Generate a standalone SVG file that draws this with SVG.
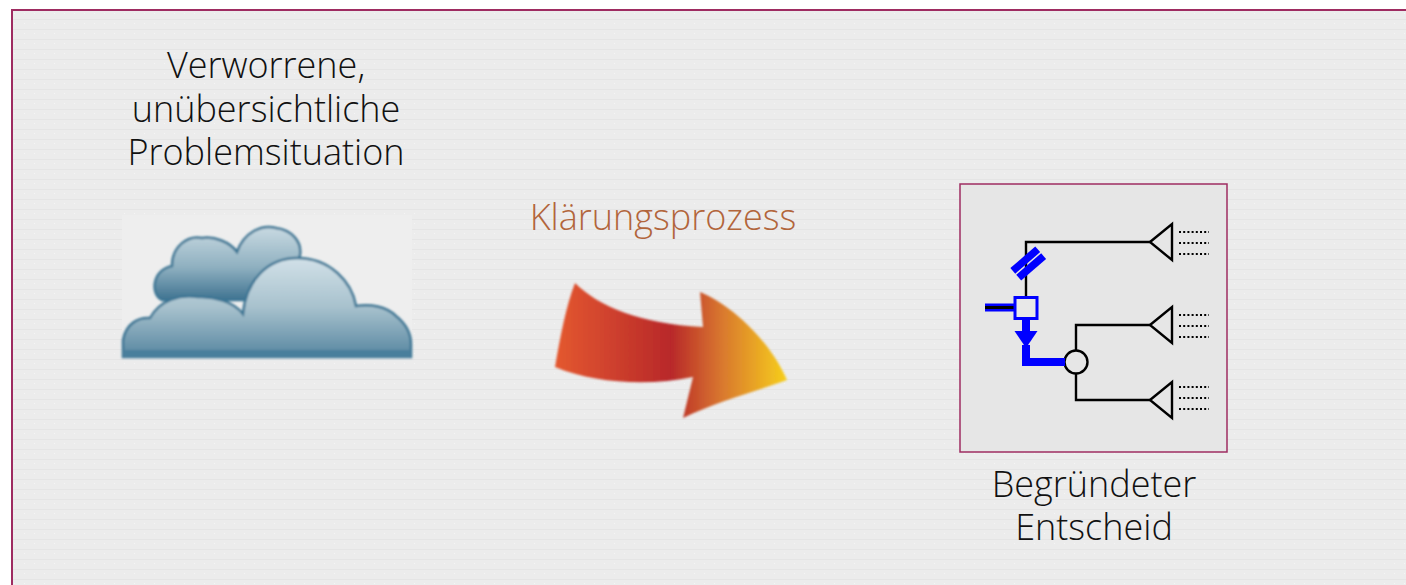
<svg xmlns="http://www.w3.org/2000/svg" width="1406" height="585" viewBox="0 0 1406 585">
  <defs>
    <pattern id="grid" width="10" height="10" patternUnits="userSpaceOnUse">
      <rect width="10" height="10" fill="#ececec"/>
      <rect y="9" width="10" height="1" fill="#e5e5e5"/>
      <rect x="4" y="3" width="1" height="1" fill="#f6f6f6"/>
    </pattern>
    <linearGradient id="cloudBack" x1="0" y1="0" x2="0" y2="1">
      <stop offset="0" stop-color="#c9dae2"/>
      <stop offset="0.55" stop-color="#8fb0c0"/>
      <stop offset="1" stop-color="#3f7391"/>
    </linearGradient>
    <linearGradient id="cloudFront" x1="0" y1="0" x2="0" y2="1">
      <stop offset="0" stop-color="#d2e1e8"/>
      <stop offset="0.5" stop-color="#a7c1cd"/>
      <stop offset="1" stop-color="#5786a0"/>
    </linearGradient>
    <linearGradient id="arrowFill" x1="555" y1="0" x2="787" y2="0" gradientUnits="userSpaceOnUse">
      <stop offset="0" stop-color="#e4582f"/>
      <stop offset="0.5" stop-color="#b8282b"/>
      <stop offset="0.72" stop-color="#d9782e"/>
      <stop offset="1" stop-color="#f7cf1c"/>
    </linearGradient>
    <filter id="soft" x="-5%" y="-5%" width="110%" height="110%">
      <feGaussianBlur stdDeviation="0.8"/>
    </filter>
  </defs>
  <style>
    .label { font-family: "Open Sans", "Liberation Sans", sans-serif; font-size: 36px; fill: #111; text-anchor: middle; font-weight: 300; }
    .process { fill: #b2653b; }
    .wire { fill: none; stroke: #000; stroke-width: 2.4; }
    .blue { fill: #0000ff; }
    .dots { fill: none; stroke: #000; stroke-width: 2; stroke-dasharray: 2 2.2; }
  </style>

  <!-- page background with frame on left and top -->
  <rect width="1406" height="585" fill="#ffffff"/>
  <rect x="11" y="9" width="1395" height="576" fill="url(#grid)"/>
  <path d="M12 585 V10 H1406" fill="none" stroke="#9e2c61" stroke-width="2"/>

  <!-- problem situation -->
  <g id="node-problem">
    <text class="label" x="266" y="78">Verworrene,</text>
    <text class="label" x="266" y="122">unübersichtliche</text>
    <text class="label" x="266" y="165">Problemsituation</text>
    <rect x="122" y="215" width="290" height="143" fill="#eeeeee"/>
    <g filter="url(#soft)">
      <path d="M162 300 C150 294 152 270 172 266 C172 246 188 235 202 238 C214 236 230 242 237 252 C244 232 262 224 276 228 C292 230 302 242 300 255 L290 300 Z"
            fill="url(#cloudBack)" stroke="#3c7694" stroke-width="2.5"/>
      <path d="M123 357 L123 340 C126 324 138 317 150 318 C160 300 180 294 198 297 C214 296 234 302 243 314 C246 280 268 258 297 258 C330 258 352 282 356 306 C370 304 386 306 396 316 C406 324 411 334 411 344 L411 357 Z"
            fill="url(#cloudFront)" stroke="#3c7694" stroke-width="2.5"/>
      <rect x="123" y="350" width="288" height="8" fill="#4a7f9c"/>
    </g>
  </g>

  <!-- clarification process -->
  <g id="node-process">
    <text class="label process" x="663" y="230">Klärungsprozess</text>
    <path filter="url(#soft)" fill="url(#arrowFill)"
          d="M575 283 C598 306 640 324 703 327 L700 292 C730 304 770 340 787 380 C760 390 715 402 683 418 L693 377 C650 386 596 384 555 367 C560 338 566 306 575 283 Z"/>
  </g>

  <!-- justified decision -->
  <g id="node-decision">
    <rect x="960" y="184" width="267" height="268" fill="#e6e6e6" stroke="#9e2c61" stroke-width="1.5"/>
    <g id="decision-tree">
      <!-- branches -->
      <path class="wire" d="M1026 297 V242 H1150"/>
      <path class="wire" d="M1076 350 V325 H1150"/>
      <path class="wire" d="M1076 373 V400 H1150"/>
      <path class="wire" d="M1150 242 L1172 224 V260 Z"/>
      <path class="wire" d="M1150 325 L1172 307 V343 Z"/>
      <path class="wire" d="M1150 400 L1172 382 V418 Z"/>
      <circle class="wire" cx="1076" cy="362" r="11.5" fill="#e6e6e6"/>
      <!-- trailing dots -->
      <path class="dots" d="M1179 232 H1209 M1179 243 H1209 M1179 254 H1209"/>
      <path class="dots" d="M1179 315 H1209 M1179 326 H1209 M1179 337 H1209"/>
      <path class="dots" d="M1179 387 H1209 M1179 398 H1209 M1179 409 H1209"/>
      <!-- chosen path -->
      <rect class="blue" x="985" y="303.5" width="30" height="8"/>
      <rect x="985" y="306" width="30" height="3" fill="#000"/>
      <rect x="1015" y="297.5" width="22" height="21" fill="#e8e8e8" stroke="#0000ff" stroke-width="3"/>
      <g transform="rotate(-41 1028 264)">
        <rect class="blue" x="1012" y="255.5" width="33" height="7.5"/>
        <rect class="blue" x="1012" y="264.5" width="33" height="7.5"/>
      </g>
      <rect class="blue" x="1022" y="320" width="8" height="11"/>
      <path class="blue" d="M1014.5 331 H1037.5 L1026 348 Z"/>
      <rect class="blue" x="1022" y="345" width="8" height="21"/>
      <rect class="blue" x="1022" y="358" width="43" height="8"/>
    </g>
    <text class="label" x="1094" y="497">Begründeter</text>
    <text class="label" x="1094" y="540">Entscheid</text>
  </g>
</svg>
